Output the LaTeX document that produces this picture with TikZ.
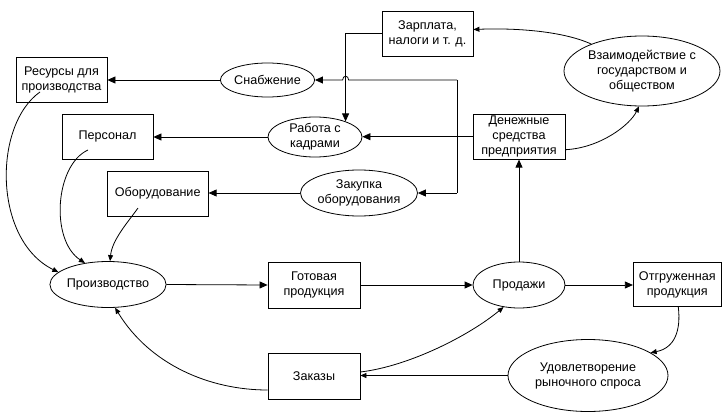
\documentclass[tikz,border=0pt]{standalone}
\usepackage{fontspec}
\setmainfont{Liberation Sans}
\usetikzlibrary{shapes.geometric,arrows.meta,calc}
\begin{document}
\begin{tikzpicture}[x=1pt,y=-1pt,
  font=\fontsize{12.6}{15}\selectfont,
  every node/.style={align=center, inner sep=0pt, line width=0.8pt},
  box/.style 2 args={draw, rectangle, minimum width=#1, minimum height=#2},
  oval/.style 2 args={draw, ellipse, minimum width=#1, minimum height=#2},
  line/.style={line width=0.8pt},
  conn/.style={line width=0.8pt, -{Triangle[length=8pt,width=7pt]}},
  cconn/.style={line width=0.8pt, -{Triangle[length=6pt,width=5pt]}},
  ]
\path[use as bounding box] (0,0) rectangle (722,412);

\node[box={91}{45}] (res) at (61.5,79.5) {Ресурсы для\\производства};
\node[oval={92}{34}] (snab) at (267.5,80) {Снабжение};
\node[box={91}{45}] (pers) at (107.5,136.5) {Персонал};
\node[oval={94}{40}] (rab) at (315,137) {Работа с\\кадрами};
\node[box={101}{45}] (obor) at (157.7,193.5) {Оборудование};
\node[oval={92}{46}] (zak) at (359,193) {Закупка\\оборудования};
\node[box={91}{45}] (zarp) at (427.5,33.5) {Зарплата,\\налоги и т. д.};
\node[oval={156}{70}] (vz) at (642,71) {Взаимодействие с\\государством и\\обществом};
\node[box={92}{45}] (den) at (519,136.7) {Денежные\\средства\\предприятия};
\node[oval={92}{46}] (proizv) at (108,284.5) {Производство};
\node[box={92}{46}] (got) at (314,285) {Готовая\\продукция};
\node[oval={92}{46}] (prod) at (519,285) {Продажи};
\node[box={88}{44}] (otgr) at (677.3,284.7) {Отгруженная\\продукция};
\node[oval={160}{72}] (udov) at (588,375.5) {Удовлетворение\\рыночного спроса};
\node[box={92}{46}] (zakazy) at (314,376) {Заказы};

% free ends / helper coordinates
\coordinate (bt) at (457,80);
\coordinate (bb) at (457,193);
\coordinate (hop) at (rab.27 |- snab.east);
\coordinate (resout) at (40,92);
\coordinate (persout) at (88,150);
\coordinate (oborout) at (138,208);

% horizontal feeds
\draw[conn] (snab.west) -- (snab.west -| res.east);
\draw[conn] (rab.west) -- (rab.west -| pers.east);
\draw[conn] (zak.west) -- (zak.west -| obor.east);
\draw[conn] (den.west) -- (den.west -| rab.east);

% bus from money
\draw[line] (bt) -- (bb);
\draw[conn] (bt) -- ([xshift=3pt]hop) .. controls ([xshift=3pt,yshift=5pt]hop) and ([xshift=-3pt,yshift=5pt]hop) .. ([xshift=-3pt]hop) -- (snab.east);
\draw[conn] (bb) -- (zak.east);

% salary to HR
\draw[conn] (zarp.west) -| (rab.27);

% state interaction
\draw[cconn] (vz.152) .. controls (560,30) and (510,28) .. ([yshift=4pt]zarp.east);
\draw[cconn] ([yshift=-13pt]den.east) .. controls (600,148) and (630,125) .. (vz.265);

% main flow
\draw[conn] (prod.north) -- (den.south);
\draw[conn] (proizv.east) -- (got.west);
\draw[conn] (got.east) -- (prod.west);
\draw[conn] (prod.east) -- (prod.east -| otgr.west);
\draw[cconn] ([xshift=1pt]otgr.south) .. controls (681,330) and (675,348) .. (udov.20);
\draw[cconn] (udov.west) -- (udov.west -| zakazy.east);
\draw[cconn] ([yshift=4pt]zakazy.east) .. controls (410,366) and (470,335) .. (prod.235);
\draw[cconn] ([yshift=-14pt]zakazy.west) .. controls (210,390) and (150,365) .. (proizv.287);

% inputs to production
\draw[cconn] (resout) .. controls (-7,125) and (-7,240) .. (proizv.166);
\draw[cconn] (persout) .. controls (55,165) and (50,240) .. (proizv.137);
\draw[cconn] (oborout) .. controls (128,222) and (112,240) .. (proizv.85);
\end{tikzpicture}
\end{document}
